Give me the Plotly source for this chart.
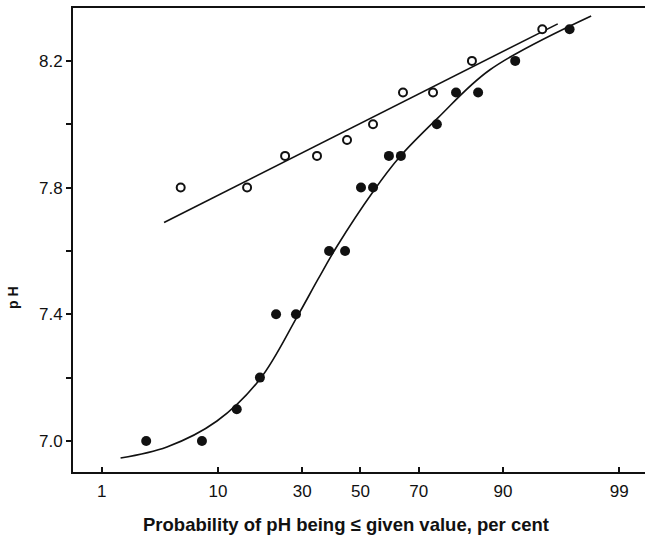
from statistics import NormalDist
import plotly.graph_objects as go

# Probability (per cent) and pH readings for the two series
open_prob = [5.3, 15.4, 24.9, 34.8, 45.2, 54.5, 64.9, 74.3, 84.2, 94.9]
open_ph = [7.8, 7.8, 7.9, 7.9, 7.95, 8.0, 8.1, 8.1, 8.2, 8.3]

filled_prob = [2.7, 7.7, 13.3, 18.3, 22.4, 28.1, 38.9, 44.5, 50.2, 54.5,
               60.1, 64.2, 75.4, 80.5, 85.5, 91.8, 97.0]
filled_ph = [7.0, 7.0, 7.1, 7.2, 7.4, 7.4, 7.6, 7.6, 7.8, 7.8,
             7.9, 7.9, 8.0, 8.1, 8.1, 8.2, 8.3]

# Fitted lines
open_fit_prob = [3.87, 96.2]
open_fit_ph = [7.69, 8.317]

filled_fit_prob = [1.55, 4.09, 9.85, 18.3, 28.4, 35.1, 41.6, 54.5,
                   63.9, 75.7, 87.8, 98.1]
filled_fit_ph = [6.946, 6.981, 7.063, 7.195, 7.391, 7.510, 7.614,
                 7.787, 7.898, 8.020, 8.172, 8.342]

# Axis ticks
x_ticks = [1, 10, 30, 50, 70, 90, 99]
x_tick_text = ["1", "10", "30", "50", "70", "90", "99"]
y_ticks = [7.0, 7.2, 7.4, 7.6, 7.8, 8.0, 8.2]
y_tick_text = ["7.0", "", "7.4", "", "7.8", "", "8.2"]

nd = NormalDist()


def probit(values):
    """Normal-probability scale position of per-cent values."""
    return [nd.inv_cdf(v / 100.0) for v in values]


INK = "#111111"

fig = go.Figure()
fig.add_trace(go.Scatter(
    x=probit(open_fit_prob), y=open_fit_ph, mode="lines",
    line=dict(color=INK, width=1.6), hoverinfo="skip", showlegend=False))
fig.add_trace(go.Scatter(
    x=probit(filled_fit_prob), y=filled_fit_ph, mode="lines",
    line=dict(color=INK, width=1.6, shape="spline", smoothing=1.0),
    hoverinfo="skip", showlegend=False))
fig.add_trace(go.Scatter(
    x=probit(open_prob), y=open_ph, mode="markers",
    marker=dict(symbol="circle", size=8, color="white",
                line=dict(color=INK, width=2)),
    showlegend=False))
fig.add_trace(go.Scatter(
    x=probit(filled_prob), y=filled_ph, mode="markers",
    marker=dict(symbol="circle", size=10, color=INK,
                line=dict(width=0)),
    showlegend=False))

tick_font = dict(family="Liberation Sans, Arial, sans-serif", size=17, color=INK)

fig.update_layout(
    width=645, height=542,
    margin=dict(l=73, r=0, t=8, b=70),
    paper_bgcolor="white", plot_bgcolor="white",
    xaxis=dict(
        range=[-2.585, 2.559], tickvals=probit(x_ticks), ticktext=x_tick_text,
        showgrid=False, zeroline=False, showline=True, mirror=True,
        linecolor=INK, linewidth=1.8, ticks="inside", ticklen=5,
        tickwidth=1.5, tickcolor=INK, tickfont=tick_font,
        ticklabelstandoff=3),
    yaxis=dict(
        range=[6.902, 8.367], tickvals=y_ticks, ticktext=y_tick_text,
        showgrid=False, zeroline=False, showline=True,
        linecolor=INK, linewidth=1.8, ticks="outside", ticklen=5,
        tickwidth=1.5, tickcolor=INK, tickfont=tick_font),
    annotations=[
        dict(text="<b>Probability of pH being ≤ given value, per cent</b>",
             xref="paper", yref="paper", x=(346 - 73) / 572, y=-(524 - 472) / 464,
             xanchor="center", yanchor="middle", showarrow=False,
             font=dict(family="Liberation Sans, Arial, sans-serif",
                       size=18.5, color=INK)),
        dict(text="<b>p H</b>", textangle=-90,
             xref="paper", yref="paper", x=-(73 - 13) / 572, y=(472 - 298) / 464,
             xanchor="center", yanchor="middle", showarrow=False,
             font=dict(family="Liberation Sans, Arial, sans-serif",
                       size=14, color=INK)),
    ],
)

fig.write_html("out.html")
